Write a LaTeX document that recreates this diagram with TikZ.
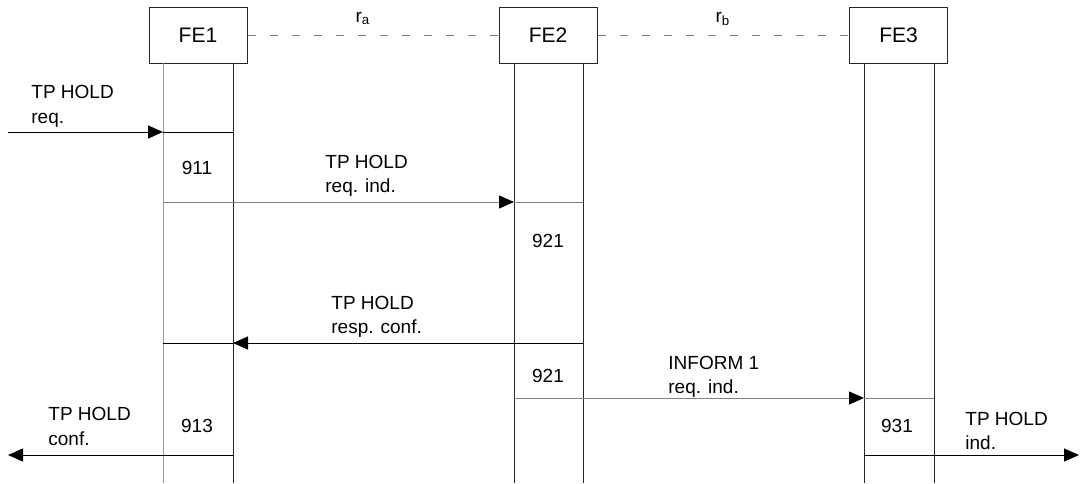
\documentclass[tikz,border=0pt]{standalone}
\usepackage{fontspec}
\setmainfont{Liberation Sans}
\usetikzlibrary{arrows.meta}
\begin{document}
\begin{tikzpicture}[x=0.5pt,y=-0.5pt,
  fe/.style={draw=black!85, line width=0.5pt, minimum width=49pt, minimum height=28pt, inner sep=0pt, font=\fontsize{10.5}{12}\selectfont},
  life/.style={draw=black!85, line width=0.5pt},
  lifeg/.style={draw=black!40, line width=0.5pt},
  msg/.style={draw=black, line width=0.5pt, -{Triangle[length=7.5pt,width=6.5pt,color=black]}},
  msgg/.style={msg, draw=black!50},
  seg/.style={draw=black, line width=0.5pt},
  segg/.style={draw=black!50, line width=0.5pt},
  lbl/.style={anchor=base west, inner sep=0pt, font=\fontsize{9.5}{12}\selectfont},
  num/.style={anchor=base, inner sep=0pt, font=\fontsize{9.5}{12}\selectfont},
  refl/.style={draw=black!50, line width=0.5pt, dash pattern=on 4pt off 7pt}]
\useasboundingbox (0,0) rectangle (1080,483);
% functional entities
\node[fe] (FE1) at (198,35) {FE1};
\node[fe] (FE2) at (548,35) {FE2};
\node[fe] (FE3) at (898.5,35) {FE3};
% relationships
\draw[refl] (FE1.east) -- (FE2.west);
\draw[refl] (FE2.east) -- (FE3.west);
\node[num] (ra) at (363,22) {r\textsubscript{a}};
\node[num] (rb) at (723,22) {r\textsubscript{b}};
% lifelines
\coordinate (l1t) at (163,63);  \coordinate (l1b) at (163,483);
\coordinate (r1t) at (233,63);  \coordinate (r1b) at (233,483);
\coordinate (l2t) at (514,63);  \coordinate (l2b) at (514,483);
\coordinate (r2t) at (583,63);  \coordinate (r2b) at (583,483);
\coordinate (l3t) at (864,63);  \coordinate (l3b) at (864,483);
\coordinate (r3t) at (934,63);  \coordinate (r3b) at (934,483);
\draw[lifeg] (l1t) -- (l1b);
\draw[life] (r1t) -- (r1b);
\draw[life] (l2t) -- (l2b);
\draw[life] (r2t) -- (r2b);
\draw[life] (l3t) -- (l3b);
\draw[life] (r3t) -- (r3b);
% message points
\coordinate (in1) at (8,132);   \coordinate (a1) at (163,132); \coordinate (b1) at (233,132);
\coordinate (a2) at (163,202);  \coordinate (b2) at (514,202); \coordinate (c2) at (583,202);
\coordinate (a3) at (583,343);  \coordinate (b3) at (233,343); \coordinate (c3) at (163,343);
\coordinate (a4) at (514,398);  \coordinate (b4) at (864,398); \coordinate (c4) at (934,398);
\coordinate (a5) at (233,455);  \coordinate (out5) at (8,455);
\coordinate (a6) at (864,455);  \coordinate (out6) at (1079,455);
% messages
\draw[msg] (in1) -- (a1); \draw[seg] (a1) -- (b1);
\draw[msgg] (a2) -- (b2); \draw[segg] (b2) -- (c2);
\draw[msg] (a3) -- (b3); \draw[seg] (b3) -- (c3);
\draw[msgg] (a4) -- (b4); \draw[segg] (b4) -- (c4);
\draw[msg] (a5) -- (out5);
\draw[msg] (a6) -- (out6);
% labels
\node[lbl] (t1a) at (31,98) {TP HOLD};
\node[lbl] (t1b) at (31,123) {req.};
\node[lbl] (t2a) at (325,168) {TP HOLD};
\node[lbl] (t2b) at (325,192) {req. ind.};
\node[lbl] (t3a) at (331,309) {TP HOLD};
\node[lbl] (t3b) at (331,333) {resp. conf.};
\node[lbl] (t4a) at (668,369) {INFORM 1};
\node[lbl] (t4b) at (668,393) {req. ind.};
\node[lbl] (t5a) at (48,420) {TP HOLD};
\node[lbl] (t5b) at (48,445) {conf.};
\node[lbl] (t6a) at (965,425) {TP HOLD};
\node[lbl] (t6b) at (965,449) {ind.};
% numbers
\node[num] (n911) at (197,174) {911};
\node[num] (n921a) at (548,247) {921};
\node[num] (n921b) at (548,382) {921};
\node[num] (n913) at (197,432) {913};
\node[num] (n931) at (897,432) {931};
\end{tikzpicture}
\end{document}
